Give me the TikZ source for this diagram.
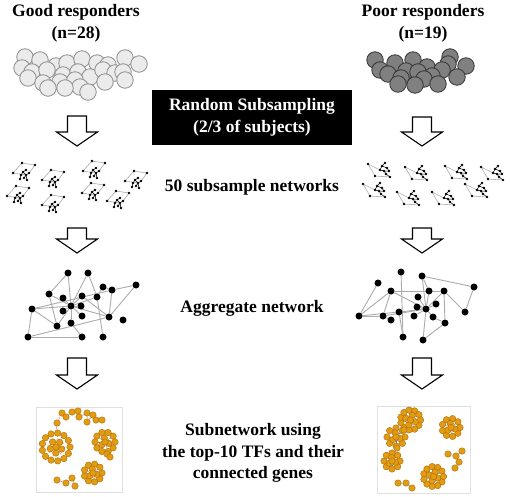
\documentclass[tikz,border=0pt]{standalone}
\usepackage{fontspec}
\setmainfont{Liberation Serif}
\usetikzlibrary{backgrounds}
\definecolor{orng}{HTML}{E39B12}
\definecolor{orngd}{HTML}{A86E08}
\definecolor{pinkedge}{HTML}{F07A8A}
\definecolor{blueedge}{HTML}{6A6AF0}
\definecolor{pcfill}{HTML}{808080}
\definecolor{gcfill}{HTML}{EBEBEB}
\definecolor{gcline}{HTML}{8C8C8C}
\definecolor{edgegray}{HTML}{ABABAB}
\tikzset{
 lbl/.style={font=\bfseries\fontsize{17.5}{21.5}\selectfont, align=center, inner sep=0pt},
 gcirc/.style={circle, draw=gcline, fill=gcfill, line width=0.8pt, minimum size=16.5pt, inner sep=0pt},
 pcirc/.style={circle, draw=black!80, fill=pcfill, line width=0.8pt, minimum size=16.5pt, inner sep=0pt},
 barrow/.style={draw=black, fill=white, line width=1.1pt, line join=miter},
 bnode/.style={circle, fill=black, minimum size=7pt, inner sep=0pt},
 gedge/.style={draw=edgegray, line width=0.9pt},
 onode/.style={circle, fill=orng, draw=orngd, line width=0.4pt, minimum size=6.5pt, inner sep=0pt},
 pinke/.style={draw=pinkedge, densely dashed, line width=0.5pt},
 bluee/.style={draw=blueedge, densely dashed, line width=0.5pt},
 frame/.style={draw=black!12, line width=0.8pt},
 motifL/.pic={
  \draw[gedge, line width=0.6pt] (-1,-7) -- (12,-5) -- (6,3) (-1,-7) -- (-10,3) -- (3,5);
  \draw[black, line width=0.5pt] (0,2) -- (3,0) (0,2) -- (-2,5) (0,2) -- (3,5) -- (1,8) (3,5) -- (4,10) (-2,5) -- (-3,9) (3,5) -- (6,3);
  \foreach \p in {(-1,-7),(12,-5),(-10,3),(0,2),(3,0),(-2,5),(3,5),(6,3),(1,8),(-3,9),(4,10)} \fill \p circle (1.4pt);
 },
 motifR/.pic={
  \draw[gedge, line width=0.6pt] (-12,-6) -- (0,0) (-12,-6) -- (-5,6) -- (10,7);
  \draw[black, line width=0.5pt] (2,-4) -- (5,-7) (2,-4) -- (7,-2) (2,-4) -- (0,0) -- (4,1) -- (9,1) (4,1) -- (6,4) -- (10,7) (7,-2) -- (9,1);
  \foreach \p in {(-12,-6),(2,-4),(5,-7),(7,-2),(0,0),(4,1),(9,1),(6,4),(-5,6),(10,7)} \fill \p circle (1.4pt);
 },
}
\newcommand\blockarrow[3]{%
 \draw[barrow] ({#1-9.5},#2) -- ({#1+9.5},#2) -- ({#1+9.5},{#3-14}) -- ({#1+20.5},{#3-14}) -- (#1,#3) -- ({#1-20.5},{#3-14}) -- ({#1-9.5},{#3-14}) -- cycle;}
\newcommand\ringnet[7]{%
 \begin{pgfonlayer}{background}
 \foreach \k in {1,...,#6}{\draw[#7] (#1,#2) -- ({#1+#5*cos(360*\k/#6+20)},{#2+#5*sin(360*\k/#6+20)});}
 \foreach \k in {1,...,#4}{\draw[#7] ({#1+#5*cos(360*\k/#4)},{#2+#5*sin(360*\k/#4)}) -- ({#1+#3*cos(360*\k/#4)},{#2+#3*sin(360*\k/#4)});}
 \end{pgfonlayer}
 \foreach \k in {1,...,#4}{\node[onode] at ({#1+#3*cos(360*\k/#4)},{#2+#3*sin(360*\k/#4)}) {};}
 \foreach \k in {1,...,#6}{\node[onode] at ({#1+#5*cos(360*\k/#6+20)},{#2+#5*sin(360*\k/#6+20)}) {};}
 \node[onode] at (#1,#2) {};
}
\begin{document}
\begin{tikzpicture}[x=1pt,y=-1pt]
\useasboundingbox (0,0) rectangle (510,496);

% ---------- labels ----------
\node[lbl] (good) at (76,23.5) {Good responders\\(n=28)};
\node[lbl] (poor) at (423,23.5) {Poor responders\\(n=19)};
\node[lbl, fill=black, text=white, minimum width=200pt, minimum height=55pt] (rs) at (252,117.5) {Random Subsampling\\(2/3 of subjects)};
\node[lbl] (sub) at (252,187) {50 subsample networks};
\node[lbl] (agg) at (252,308) {Aggregate network};
\node[lbl] (subnet) at (253,453) {Subnetwork using\\the top-10 TFs and their\\connected genes};

% ---------- circles ----------
\foreach \p [count=\i] in {(25,57),(40,60),(56,66),(67,63),(82,59),(97,63),(108,65),(125,58),(139,64),(22,68),(32,72),(47,70),(63,75),(78,72),(90,77),(103,70),(115,73),(123,72),(28,78),(43,83),(60,82),(75,80),(80,87),(105,82),(125,80),(48,88),(65,88),(88,92)}
 \node[gcirc] (g\i) at \p {};
\foreach \p [count=\i] in {(375,60),(395,63),(413,60),(450,57),(466,66),(448,64),(380,70),(388,74),(406,71),(427,67),(442,70),(418,72),(457,77),(432,76),(401,78),(424,79),(438,84),(398,84),(415,85)}
 \node[pcirc] (p\i) at \p {};

% ---------- block arrows ----------
\blockarrow{77}{116}{146}
\blockarrow{422}{117}{146}
\blockarrow{77}{228}{253}
\blockarrow{422}{228}{253}
\blockarrow{77}{358}{389}
\blockarrow{422}{358}{389}

% ---------- subsample networks ----------
\foreach \p in {(23,170),(52,177),(93,168),(135,178),(17,193),(52,202),(92,190),(117,198)}
 \pic at \p {motifL};
\foreach \p in {(380,170),(417,173),(457,172),(493,173),(375,190),(409,198),(444,198),(477,190)}
 \pic at \p {motifR};

% ---------- aggregate network (good) ----------
\foreach \n/\x/\y in {1/68/273,2/88/273,3/49/294,4/63/298,5/71/306,6/82/296,7/81/306,8/82/316,9/63/311,10/32/309,11/57/326,12/71/323,13/28/337,14/82/337,15/103/337,16/97/297,17/103/287,18/112/290,19/136/285,20/109/317,21/123/320}
 \node[bnode] (a\n) at (\x,\y) {};
\begin{pgfonlayer}{background}
\foreach \u/\v in {1/5,1/3,2/5,2/16,3/11,3/5,4/5,6/5,7/5,8/5,9/5,10/5,10/13,10/11,11/5,12/5,12/14,13/14,13/20,16/5,16/15,16/17,17/18,18/19,18/20,19/20,5/20,6/20,10/18}
 \draw[gedge] (a\u) -- (a\v);
\end{pgfonlayer}

% ---------- aggregate network (poor) ----------
\foreach \n/\x/\y in {1/401/272,2/422/276,3/378/283,4/391/291,5/429/291,6/444/291,7/474/287,8/418/297,9/436/304,10/417/307,11/426/309,12/399/312,13/414/316,14/433/317,15/465/312,16/359/316,17/383/316,18/391/320,19/445/323,20/403/337,21/423/340}
 \node[bnode] (b\n) at (\x,\y) {};
\begin{pgfonlayer}{background}
\foreach \u/\v in {2/7,3/16,4/16,4/17,4/11,4/6,1/20,2/5,5/11,6/11,6/19,6/15,7/15,8/11,9/11,10/11,12/11,12/20,13/11,14/11,14/19,16/17,17/18,17/11,19/21,21/11,16/12,2/11}
 \draw[gedge] (b\u) -- (b\v);
\end{pgfonlayer}

% ---------- subnetworks ----------
\draw[frame] (36,407) rectangle (122,492);
\draw[frame] (377,406) rectangle (470,493);

% left
\ringnet{56}{447}{14}{13}{6}{5}{pinke}
\ringnet{105}{442}{10}{10}{4}{3}{pinke}
\ringnet{93}{473}{9}{9}{4}{3}{pinke}
\foreach \n/\x/\y in {1/57/423,2/62/413,3/66/417,4/72/412,5/78/411,6/79/417,7/87/413,8/87/422,9/93/415,10/96/420,11/102/420,12/57/480,13/66/483,14/72/478,15/75/486,16/107/454,17/110/457}
 \node[onode] (l\n) at (\x,\y) {};
\begin{pgfonlayer}{background}
\draw[pinke] (l1) -- (56,433) (l1) -- (l2) -- (l3) -- (l4) -- (l5) -- (l6) -- (l7) -- (l8) -- (l9) -- (l10) -- (l11);
\draw[pinke] (l12) -- (l13) -- (l14) -- (l15);
\end{pgfonlayer}

% right
\ringnet{410.5}{420}{10}{11}{5}{4}{bluee}
\ringnet{451}{427.5}{9}{9}{4}{3}{bluee}
\ringnet{396}{437}{9}{8}{4}{3}{bluee}
\ringnet{392}{461}{8}{8}{3.5}{3}{bluee}
\ringnet{433.5}{476.5}{10}{11}{4.5}{4}{bluee}
\foreach \n/\x/\y in {1/404/430,2/397/448,3/448/454,4/456/456,5/462/451,6/459/462,7/455/468,8/398/483,9/406/483,10/412/488}
 \node[onode] (r\n) at (\x,\y) {};
\begin{pgfonlayer}{background}
\draw[bluee] (410.5,420) -- (r1) -- (396,437) -- (r2) -- (392,461);
\draw[bluee] (r3) -- (r4) -- (r5) (r4) -- (r6) -- (r7);
\draw[bluee] (r8) -- (r9) -- (r10);
\end{pgfonlayer}
\end{tikzpicture}
\end{document}
